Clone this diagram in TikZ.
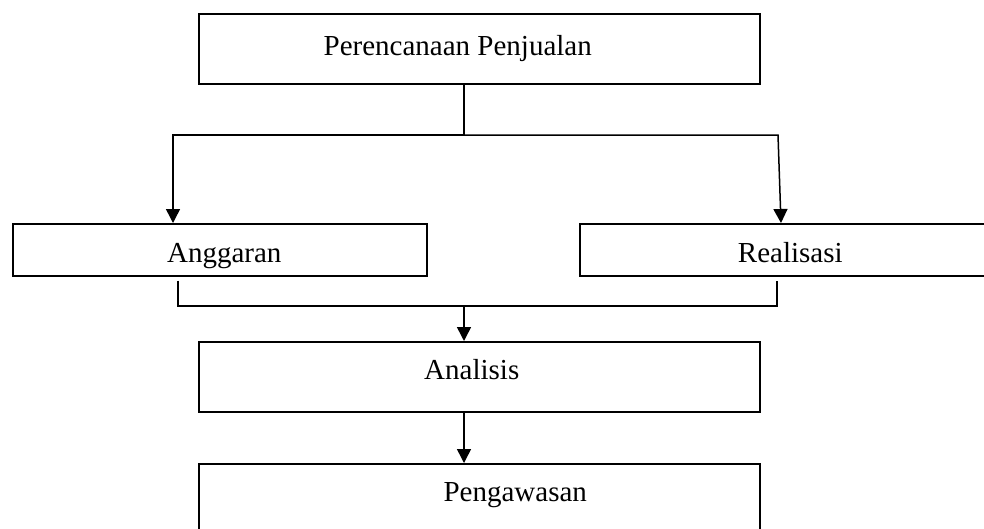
\documentclass[tikz,border=0pt]{standalone}
\usepackage{fontspec}
\setmainfont{Liberation Serif}
\usetikzlibrary{arrows.meta}

\begin{document}
\begin{tikzpicture}[x=1pt,y=-1pt,
  kotak/.style={draw, line width=1.5pt, inner sep=0pt, anchor=north west,
    font=\fontsize{29}{35}\selectfont},
  garis/.style={line width=1.5pt},
  panah/.style={line width=1.5pt, -{Triangle[width=14pt,length=14pt]}}]
  \useasboundingbox (0,0) rectangle (984,528);
  \clip (0,0) rectangle (984,528);
  % kotak-kotak
  \node[kotak, minimum width=561pt, text height=42pt, text depth=28pt] (rencana) at (198,13) {Perencanaan Penjualan\hspace*{43pt}};
  \node[kotak, minimum width=414pt, text height=39pt, text depth=13pt] (anggaran) at (12,223) {\hspace*{9pt}Anggaran};
  \node[kotak, minimum width=421pt, text height=39pt, text depth=13pt] (realisasi) at (579,223) {Realisasi};
  \node[kotak, minimum width=561pt, text height=38pt, text depth=32pt] (analisis) at (198,341) {Analisis\hspace*{15pt}};
  \node[kotak, minimum width=561pt, text height=38pt, text depth=40pt] (awas) at (198,463) {\hspace*{72pt}Pengawasan};
  % titik bantu
  \coordinate (cabang) at (464,135);
  \coordinate (kiri) at (173,135);
  \coordinate (kanan) at (778,135);
  \coordinate (gabung) at (464,306);
  \coordinate (bawahkiri) at (178,306);
  \coordinate (bawahkanan) at (777,306);
  % garis penghubung
  \draw[garis] (rencana.south -| cabang) -- (cabang);
  \draw[panah] (cabang) -- (kiri) -- (kiri |- anggaran.north);
  \draw[panah] (cabang) -- (kanan) -- ([xshift=3pt]kanan |- realisasi.north);
  \draw[garis] ([yshift=-4pt]bawahkiri |- anggaran.south) -- (bawahkiri) -- (bawahkanan) -- ([yshift=-4pt]bawahkanan |- realisasi.south);
  \draw[panah] (gabung) -- (analisis.north -| gabung);
  \draw[panah] (analisis.south -| gabung) -- (awas.north -| gabung);
\end{tikzpicture}
\end{document}
